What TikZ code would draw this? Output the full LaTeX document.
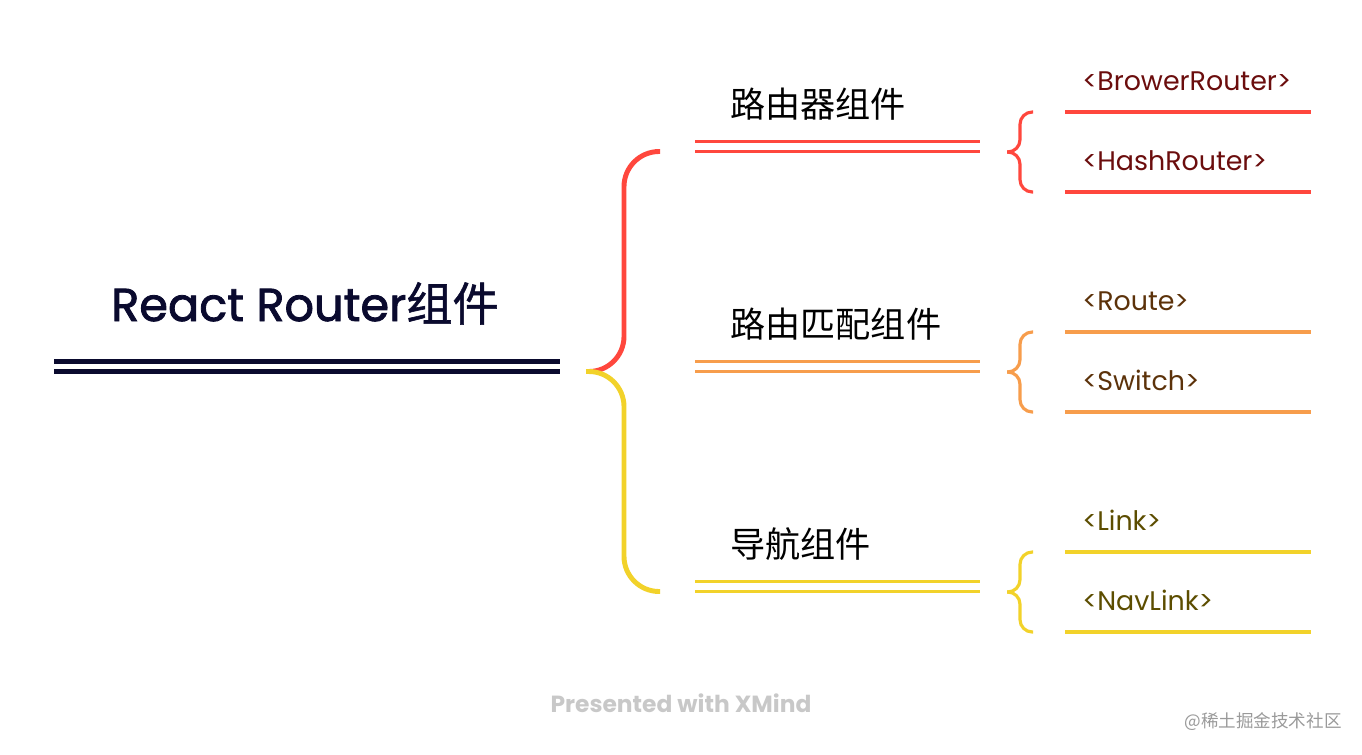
\documentclass[tikz,border=0pt]{standalone}
\usepackage{fontspec}
\setmainfont{Poppins}
\newfontfamily\cjk{Noto Sans CJK SC}
\newfontfamily\rootfont[FakeBold=1.8]{Poppins}
\newfontfamily\rootcjk[FakeBold=1.2]{Noto Sans CJK SC}
\usetikzlibrary{positioning}
\definecolor{rootblue}{HTML}{0A0A2E}
\definecolor{branchred}{HTML}{FF473D}
\definecolor{branchorange}{HTML}{F79D4C}
\definecolor{branchyellow}{HTML}{F2D22A}
\definecolor{leafred}{HTML}{6B0D0D}
\definecolor{leafbrown}{HTML}{5C320A}
\definecolor{leafolive}{HTML}{5C4D00}
\definecolor{footgray}{HTML}{C8C8C8}
\definecolor{markgray}{HTML}{9A9A9A}

\begin{document}
\begin{tikzpicture}[
  x=0.02cm, y=-0.02cm,
  rootline/.style={draw=rootblue, line width=2.8pt, double=white, double distance=2.8pt},
  topicline/.style={line width=2pt, double=white, double distance=3.6pt},
  leafline/.style={line width=2pt},
  bigbrace/.style={line width=2.8pt, rounded corners=20pt},
  smallbrace/.style={line width=1.8pt, rounded corners=7pt},
  topic/.style={anchor=west, inner sep=0pt, font=\cjk\fontsize{20}{24}\selectfont},
  leaf/.style={anchor=base west, inner sep=0pt, font=\fontsize{15.3}{18}\selectfont}
]
\useasboundingbox (0,0) rectangle (1362,754);

% root
\node[anchor=base, inner sep=0pt, text=rootblue, font=\rootfont\fontsize{26.3}{30}\selectfont]
  (root) at (305,321) {React Router{\rootcjk 组件}};
\coordinate (rootL) at (54,366.5);
\coordinate (rootR) at (560,366.5);
\draw[rootline] (rootL) -- (rootR);

% big brace
\coordinate (fork) at (586,371.5);
\coordinate (spine) at (624,0);
\coordinate (b1) at (660,151.5);
\coordinate (b3) at (660,591.5);
\draw[bigbrace, branchred] (fork) -- (fork -| spine) -- (spine |- b1) -- (b1);
\draw[bigbrace, branchyellow] (fork) -- (fork -| spine) -- (spine |- b3) -- (b3);

% topics
\node[topic] (router) at (730,104) {路由器组件};
\node[topic] (match) at (730,324) {路由匹配组件};
\node[topic] (nav) at (730,544) {导航组件};

\coordinate (t1L) at (695,146.5); \coordinate (t1R) at (980,146.5);
\coordinate (t2L) at (695,366.5); \coordinate (t2R) at (980,366.5);
\coordinate (t3L) at (695,586.5); \coordinate (t3R) at (980,586.5);
\draw[topicline, branchred] (t1L) -- (t1R);
\draw[topicline, branchorange] (t2L) -- (t2R);
\draw[topicline, branchyellow] (t3L) -- (t3R);

% small braces
\foreach \c/\y in {branchred/152, branchorange/372, branchyellow/592}{
  \draw[smallbrace, \c] (1033,\y-40) -- (1020,\y-40) -- (1020,\y) -- (1007,\y);
  \draw[smallbrace, \c] (1033,\y+40) -- (1020,\y+40) -- (1020,\y) -- (1007,\y);
}

% leaves
\node[leaf, text=leafred] (brower) at (1082,90) {<BrowerRouter>};
\node[leaf, text=leafred] (hash) at (1082,170) {<HashRouter>};
\node[leaf, text=leafbrown] (route) at (1082,310) {<Route>};
\node[leaf, text=leafbrown] (switch) at (1082,390) {<Switch>};
\node[leaf, text=leafolive] (link) at (1082,530) {<Link>};
\node[leaf, text=leafolive] (navlink) at (1082,610) {<NavLink>};

\foreach \c/\y in {branchred/112, branchred/192, branchorange/332, branchorange/412, branchyellow/552, branchyellow/632}{
  \draw[leafline, \c] (1065,\y) -- (1311,\y);
}

% footer
\node[text=footgray, font=\fontsize{13.3}{16}\selectfont\bfseries] (xmind) at (681,703) {Presented with XMind};
\node[anchor=east, inner sep=0pt, text=markgray, font=\cjk\fontsize{10}{12}\selectfont] (mark) at (1342,722) {@稀土掘金技术社区};
\end{tikzpicture}
\end{document}
